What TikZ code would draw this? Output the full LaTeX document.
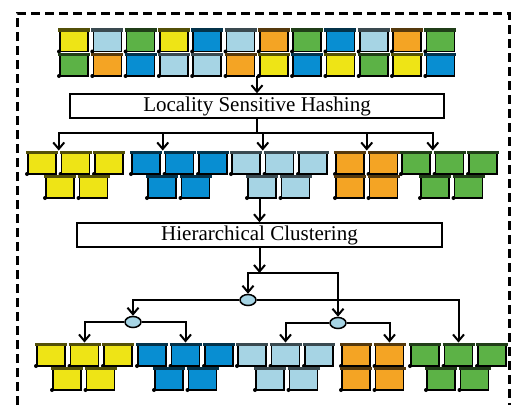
\documentclass[tikz,border=0pt]{standalone}
\usepackage{fontspec}
\setmainfont{Liberation Serif}
\usetikzlibrary{arrows.meta,shapes.geometric,calc}

\definecolor{cyel}{RGB}{238,228,22}
\definecolor{clb}{RGB}{166,212,228}
\definecolor{cgr}{RGB}{92,178,70}
\definecolor{cbl}{RGB}{8,142,210}
\definecolor{cor}{RGB}{244,164,36}

\tikzset{
  cube/.style={draw, line width=1.6pt, minimum width=28pt, minimum height=21.5pt, inner sep=0pt, outer sep=0pt},
  lid/.style={line width=3.2pt},
  stage/.style={draw, line width=1.5pt, minimum height=24pt, inner sep=0pt, font=\fontsize{21}{24}\selectfont},
  knot/.style={ellipse, draw, line width=1.5pt, fill=clb, minimum width=16pt, minimum height=11pt, inner sep=0pt},
  link/.style={line width=2pt},
  arr/.style={link, -{Straight Barb[length=6.5pt,width=11pt]}},
}

% name, x, y, colour
\newcommand{\cube}[4]{%
  \node[cube, fill=#4, anchor=north west] (#1) at ({#2},{#3}) {};
  \draw[lid, draw=#4!35!black] ([xshift=-2pt]#1.north west) -- ([xshift=2pt]#1.north east);
  \fill ([xshift=-1pt]#1.south west) circle (2pt);
}
% prefix, x, y, colour, boxes on top, boxes below, shift of the lower row
\newcommand{\cluster}[7]{%
  \foreach \i in {1,...,#5} {\cube{#1\i}{#2+(\i-1)*33.5}{#3}{#4}}
  \foreach \i in {1,...,#6} {\cube{#1b\i}{#2+#7+(\i-1)*33.5}{#3+24}{#4}}
}

\begin{document}
\begin{tikzpicture}[x=1pt, y=-1pt]
\useasboundingbox (0,0) rectangle (514,405);
\draw[line width=3pt, dash pattern=on 9pt off 5pt] (17,405) -- (17,13) -- (509,13) -- (509,405);

% data points
\foreach \c [count=\i] in {cyel,clb,cgr,cyel,cbl,clb,cor,cgr,cbl,clb,cor,cgr}
  {\cube{t\i}{60+(\i-1)*33.3}{30}{\c}}
\foreach \c [count=\i] in {cgr,cor,cbl,clb,clb,cor,cyel,cbl,cyel,cgr,cyel,cbl}
  {\cube{u\i}{60+(\i-1)*33.3}{54.5}{\c}}

\node[stage, minimum width=374pt] (lsh) at (257,106) {Locality Sensitive Hashing};

% buckets
\cluster{y}{28}{152.5}{cyel}{3}{2}{18}
\cluster{b}{132}{152.5}{cbl}{3}{2}{16}
\cluster{l}{232}{152.5}{clb}{3}{2}{16}
\cluster{o}{336}{152.5}{cor}{2}{2}{0}
\cluster{g}{402}{152.5}{cgr}{3}{2}{19}

\node[stage, minimum width=365pt] (hc) at (259.5,235) {Hierarchical Clustering};

% clusters
\cluster{Y}{37}{344.5}{cyel}{3}{2}{16}
\cluster{B}{138}{344.5}{cbl}{3}{2}{17}
\cluster{L}{238}{344.5}{clb}{3}{2}{18}
\cluster{O}{342}{344.5}{cor}{2}{2}{0}
\cluster{G}{411}{344.5}{cgr}{3}{2}{16}

\node[knot] (e1) at (248,300) {};
\node[knot] (e2) at (338,323) {};
\node[knot] (e3) at (133,322) {};
\coordinate (h1) at (257,133);
\coordinate (h2) at (259.5,273);

\draw[arr] (lsh.north |- u6.south) -- (lsh.north);
\draw[link] (lsh.south) -- (h1);
\foreach \p in {y,b,l,o,g}
  \draw[arr, shorten >=2pt] (h1) -| ($(\p1.north east)!.5!(\p2.north west)$);

\draw[arr] (hc.north |- lb1.south) -- (hc.north);
\draw[arr] (hc.south) -- (h2);
\draw[arr] (h2) -| (e1.north);
\draw[arr] (h2) -| (e2.north);
\draw[arr] (e1.west) -| (e3.north);
\draw[arr, shorten >=2pt] (e1.east) -| (G2.north);
\draw[arr, shorten >=2pt] (e3.west) -| (Y2.north);
\draw[arr, shorten >=2pt] (e3.east) -| (B2.north);
\draw[arr, shorten >=2pt] (e2.west) -| (L2.north);
\draw[arr, shorten >=2pt] (e2.east) -| (O2.north);
\end{tikzpicture}
\end{document}
